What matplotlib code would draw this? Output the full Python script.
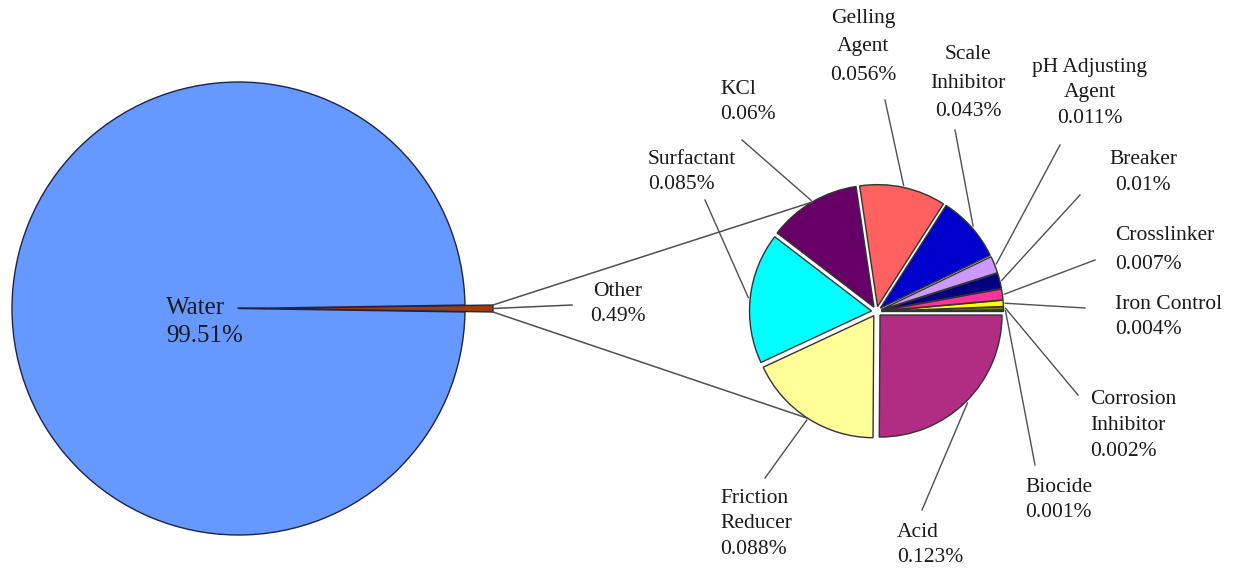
import numpy as np
import matplotlib.pyplot as plt

# Overall split of the fluid
main_labels = ["Other", "Water"]
main_values = [0.49, 99.51]
main_colors = ["#9C3D12", "#6699FF"]

# Breakdown of the "Other" share, counter-clockwise from 3 o'clock
parts = ["Biocide", "Corrosion\nInhibitor", "Iron Control", "Crosslinker", "Breaker",
         "pH Adjusting\nAgent", "Scale\nInhibitor", "Gelling\nAgent", "KCl", "Surfactant",
         "Friction\nReducer", "Acid"]
part_values = [0.001, 0.002, 0.004, 0.007, 0.010, 0.011, 0.043, 0.056, 0.060, 0.085,
               0.088, 0.123]
part_text = ["0.001%", "0.002%", "0.004%", "0.007%", "0.01%", "0.011%", "0.043%",
             "0.056%", "0.06%", "0.085%", "0.088%", "0.123%"]
part_colors = ["#993300", "#808000", "#FFFF00", "#FF3399", "#000080", "#CC99FF",
               "#0000CC", "#FF6060", "#660066", "#00FFFF", "#FFFF99", "#B12D84"]

W, H = 1235, 571
plt.rcParams['font.family'] = ['Liberation Serif', 'DejaVu Serif']
TXT = "#1a1a1a"
LINE = "#505050"

fig = plt.figure(figsize=(W / 100, H / 100), dpi=100)
ax = fig.add_axes([0, 0, 1, 1])


def py(y):
    # layout positions are measured from the top edge
    return H - y


# big pie (explode is in data units, i.e. pixels here)
c1 = (238.5, py(308.5))
r1 = 226.5
start = -main_values[0] * 3.6 / 2
w1, _ = ax.pie(main_values, colors=main_colors, radius=r1, center=c1, startangle=start,
               explode=[28, 0], counterclock=True, frame=True,
               wedgeprops=dict(edgecolor="#222244", linewidth=1.0))
other = w1[0]
ocx, ocy = other.center
t1, t2 = np.radians(other.theta1), np.radians(other.theta2)
tip_top = (ocx + r1 * np.cos(t2), ocy + r1 * np.sin(t2))
tip_bot = (ocx + r1 * np.cos(t1), ocy + r1 * np.sin(t1))
tip_mid = (ocx + r1, ocy)

# small pie
c2 = (876.5, py(311.5))
r2 = 122
ex2 = 5
w2, _ = ax.pie(part_values, colors=part_colors, radius=r2, center=c2, startangle=0,
               explode=[ex2] * len(part_values), counterclock=True, frame=True,
               wedgeprops=dict(edgecolor="#333333", linewidth=1.0))


def edge_point(i, pad=2):
    w = w2[i]
    mid = np.radians((w.theta1 + w.theta2) / 2)
    rr = r2 + ex2 + pad
    return (c2[0] + rr * np.cos(mid), c2[1] + rr * np.sin(mid))


# connector lines between the two pies
kcl = edge_point(parts.index("KCl"), 0)
fric = edge_point(parts.index("Friction\nReducer"), 0)
ax.plot([tip_top[0], kcl[0]], [tip_top[1], kcl[1]], color=LINE, lw=1.1)
ax.plot([tip_bot[0], fric[0]], [tip_bot[1], fric[1]], color=LINE, lw=1.1)

# water and other labels
ax.text(166, py(322), "Water\n%.2f%%" % main_values[1], fontsize=18, color=TXT,
        ha="left", va="center", linespacing=1.3)
ax.plot([238, ocx], [py(308), ocy], color="#222244", lw=1.0)
ax.text(590, py(304), "%s\n%.2f%%" % (main_labels[0], main_values[0]), fontsize=15.5,
        color=TXT, ha="left", va="center", linespacing=1.4, multialignment="center")
ax.plot([tip_mid[0], 572], [tip_mid[1], py(305)], color=LINE, lw=1.1)

# label block: (x, y centre, alignment, line spacing, leader start)
label_layout = {
    "Biocide": (1025, 500, "left", 1.45, (1035, 465)),
    "Corrosion\nInhibitor": (1090, 426, "left", 1.5, (1078, 395)),
    "Iron Control": (1115, 317, "left", 1.45, (1085, 308)),
    "Crosslinker": (1115, 250, "left", 1.7, (1095, 260)),
    "Breaker": (1143, 173, "center", 1.5, (1080, 195)),
    "pH Adjusting\nAgent": (1090, 93, "center", 1.45, (1060, 145)),
    "Scale\nInhibitor": (968, 83, "center", 1.65, (955, 130)),
    "Gelling\nAgent": (863, 47, "center", 1.65, (885, 100)),
    "KCl": (720, 102, "left", 1.45, (742, 140)),
    "Surfactant": (648, 172, "left", 1.45, (705, 200)),
    "Friction\nReducer": (720, 524, "left", 1.45, (765, 478)),
    "Acid": (897, 545, "left", 1.45, (922, 510)),
}

for i, name in enumerate(parts):
    x, y, ha, ls, (lx, ly) = label_layout[name]
    ax.text(x, py(y), "%s\n%s" % (name, part_text[i]), fontsize=15.5, color=TXT,
            ha=ha, va="center", linespacing=ls, multialignment=ha)
    ex, ey = edge_point(i)
    ax.plot([lx, ex], [py(ly), ey], color=LINE, lw=1.0)

ax.set_xlim(0, W)
ax.set_ylim(0, H)
ax.set_aspect("auto")
ax.axis("off")

fig.savefig("out.png", dpi=100, facecolor="white")
